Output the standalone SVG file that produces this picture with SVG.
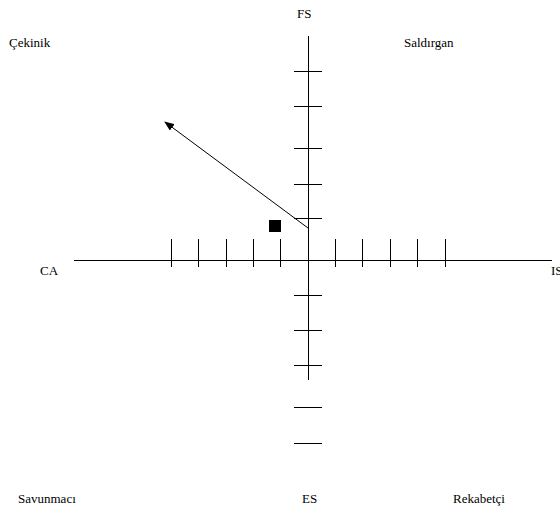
<svg xmlns="http://www.w3.org/2000/svg" width="560" height="511" viewBox="0 0 560 511">
<style>
.ax{stroke:#000;stroke-width:1;fill:none}
.tk{stroke:#000;stroke-width:1}
</style>
<defs>
<marker id="ah" markerWidth="10" markerHeight="8" refX="9" refY="4" orient="auto" markerUnits="userSpaceOnUse">
<path d="M0,0 L10,4 L0,8 Z" fill="#000"/>
</marker>
</defs>
<rect width="560" height="511" fill="#fff"/>
<g id="connectors">
<line class="ax" x1="308.5" y1="36" x2="308.5" y2="380"/>
<line class="ax" x1="74" y1="260.5" x2="552" y2="260.5"/>
<g class="tk">
<line x1="294" y1="71.5" x2="322" y2="71.5"/>
<line x1="294" y1="106.5" x2="322" y2="106.5"/>
<line x1="294" y1="148.5" x2="322" y2="148.5"/>
<line x1="294" y1="184.5" x2="322" y2="184.5"/>
<line x1="294" y1="218.5" x2="322" y2="218.5"/>
<line x1="294" y1="295.5" x2="322" y2="295.5"/>
<line x1="294" y1="330.5" x2="322" y2="330.5"/>
<line x1="294" y1="365.5" x2="322" y2="365.5"/>
<line x1="294" y1="407.5" x2="322" y2="407.5"/>
<line x1="294" y1="443.5" x2="322" y2="443.5"/>
<line x1="171.5" y1="239" x2="171.5" y2="267"/>
<line x1="198.5" y1="239" x2="198.5" y2="267"/>
<line x1="226.5" y1="239" x2="226.5" y2="267"/>
<line x1="253.5" y1="239" x2="253.5" y2="267"/>
<line x1="280.5" y1="239" x2="280.5" y2="267"/>
<line x1="335.5" y1="239" x2="335.5" y2="267"/>
<line x1="362.5" y1="239" x2="362.5" y2="267"/>
<line x1="390.5" y1="239" x2="390.5" y2="267"/>
<line x1="417.5" y1="239" x2="417.5" y2="267"/>
<line x1="445.5" y1="239" x2="445.5" y2="267"/>
</g>
<line class="ax" x1="308" y1="228" x2="165" y2="122" marker-end="url(#ah)"/>
</g>
<g id="point"><rect x="269" y="220" width="12" height="12" fill="#000"/></g>
<g id="labels" font-family="Liberation Serif, Times New Roman, DejaVu Serif, serif" font-size="13" fill="#000">
<text x="297" y="18">FS</text>
<text x="9" y="47">Çekinik</text>
<text x="404" y="47">Saldırgan</text>
<text x="40" y="275">CA</text>
<text x="551" y="275">IS</text>
<text x="18" y="503">Savunmacı</text>
<text x="302" y="503">ES</text>
<text x="453" y="503">Rekabetçi</text>
</g>
</svg>
